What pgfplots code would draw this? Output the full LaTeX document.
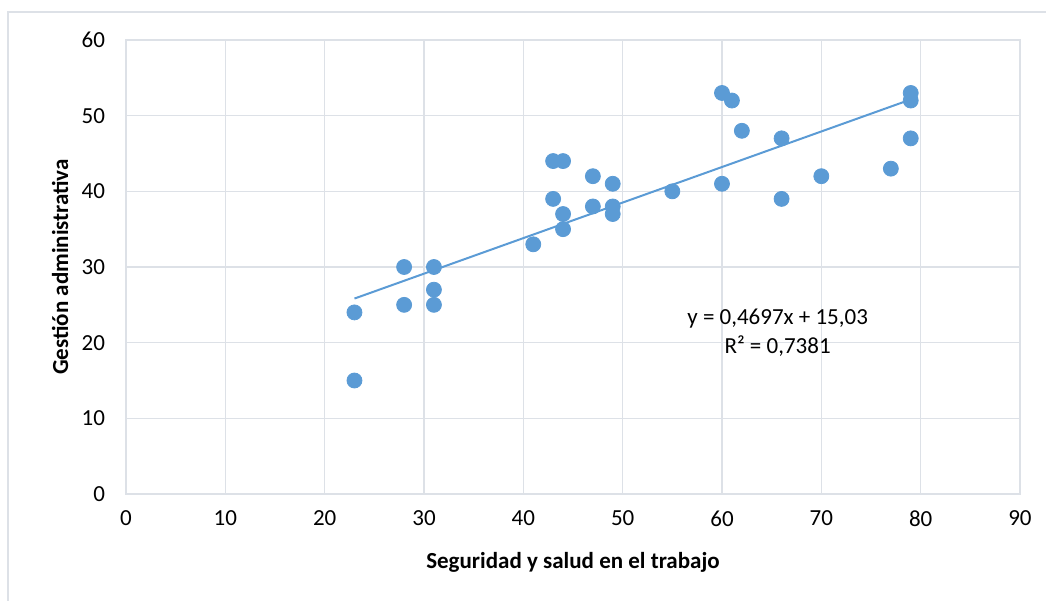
\documentclass[border=0pt]{standalone}
\usepackage{fontspec}
\setmainfont{Carlito}
\usepackage{pgfplots}
\pgfplotsset{compat=1.18}
\definecolor{puntos}{HTML}{5B9BD5}
\definecolor{rejilla}{HTML}{DDE1E7}
\definecolor{borde}{HTML}{C9D0DA}
\begin{document}
\begin{tikzpicture}
% tamaño total de la figura (1 px = 0.5 bp)
\path[use as bounding box] (-63bp,-53.5bp) rectangle (460bp,247bp);
\draw[rejilla, line width=0.75bp] (-59bp,-80bp) rectangle (480bp,241bp);
\begin{axis}[
  scale only axis,
  width=447bp, height=227bp,
  xmin=0, xmax=90, ymin=0, ymax=60,
  xtick distance=10, ytick distance=10,
  grid=major,
  major grid style={rejilla, line width=0.75bp},
  axis line style={rejilla, line width=0.75bp},
  tick style={draw=none},
  font=\fontsize{11.5bp}{13.5bp}\selectfont,
  /pgf/number format/assume math mode=true,
  xticklabel style={yshift=-5bp},
  yticklabel style={xshift=-7bp},
  xlabel={\textbf{Seguridad y salud en el trabajo}},
  ylabel={\textbf{Gestión administrativa}},
  xlabel style={at={(axis description cs:0.5,-0.1498)}, anchor=center},
  ylabel style={at={(axis description cs:-0.0738,0.5)}, anchor=center},
]
\addplot[only marks, mark=*, mark size=3.75bp, draw=puntos, fill=puntos]
  coordinates {
  (23,24) (23,15) (28,30) (28,25) (31,30) (31,27) (31,25)
  (41,33) (43,44) (44,44) (43,39) (44,37) (44,35)
  (47,42) (47,38) (49,41) (49,38) (49,37) (55,40)
  (60,53) (61,52) (62,48) (60,41) (66,47) (66,39)
  (70,42) (77,43) (79,53) (79,52) (79,47)
  };
% línea de tendencia: y = 0,4697x + 15,03
\addplot[puntos, line width=1bp] coordinates {(23,25.83) (79,52.14)};
\node[align=center, font=\fontsize{11.5bp}{14.5bp}\selectfont]
  at (axis cs:65.6,21.3) {y = 0,4697x + 15,03\\R² = 0,7381};
\end{axis}
\end{tikzpicture}
\end{document}
